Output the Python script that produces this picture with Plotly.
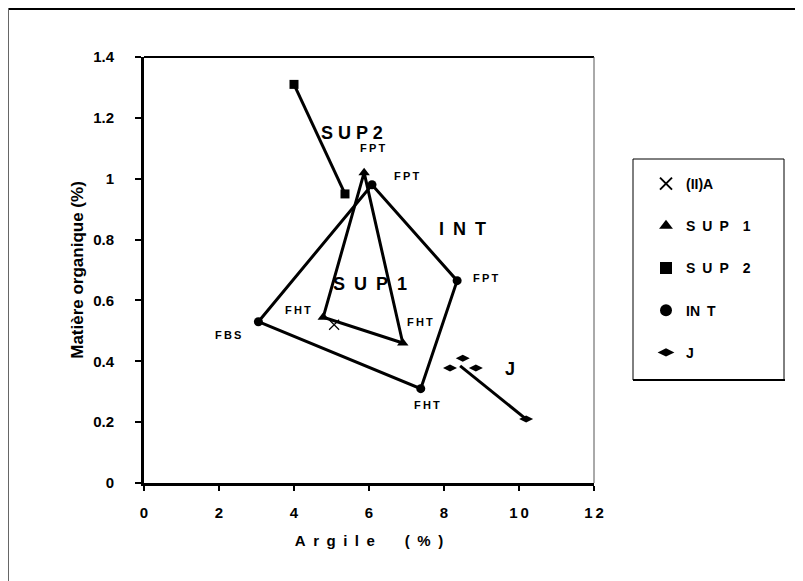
import plotly.graph_objects as go

# ---- data ----
ii_a_x = [5.07]
ii_a_y = [0.52]

sup1_x = [5.87, 4.78, 6.9]
sup1_y = [1.02, 0.545, 0.46]

sup2_x = [4.0, 5.36]
sup2_y = [1.31, 0.95]

int_x = [3.05, 6.08, 8.35, 7.38]
int_y = [0.53, 0.98, 0.665, 0.31]

j_x = [8.16, 8.5, 8.85, 10.19]
j_y = [0.378, 0.41, 0.378, 0.21]
j_line_x = [8.43, 10.19]
j_line_y = [0.385, 0.21]

x_ticks = [0, 2, 4, 6, 8, 10, 12]
x_ticktext = ["0", "2", "4", "6", "8", "1\u20090", "1\u20092"]
y_ticks = [0, 0.2, 0.4, 0.6, 0.8, 1.0, 1.2, 1.4]
y_ticktext = ["0", "0.2", "0.4", "0.6", "0.8", "1", "1.2", "1.4"]

# point labels
lab_text = ["F\u2009P\u2009T", "F\u2009P\u2009T", "F\u2009P\u2009T", "F\u2009H\u2009T",
            "F\u2009H\u2009T", "F\u2009B\u2009S", "F\u2009H\u2009T"]
lab_x = [6.08, 7.0, 9.1, 4.1, 7.37, 2.25, 7.55]
lab_y = [1.10, 1.01, 0.675, 0.57, 0.53, 0.487, 0.255]

big_text = ["S U P 2", "I\u2002N\u2002T", "S\u2002U\u2002P\u20021", "J"]
big_x = [5.55, 8.5, 6.03, 9.75]
big_y = [1.15, 0.835, 0.655, 0.375]

FONT = "Liberation Sans, Arial, sans-serif"
BLACK = "#000000"

fig = go.Figure()

def closed(v):
    return list(v) + [v[0]]

# lines
for lx, ly in [(closed(sup1_x), closed(sup1_y)), (sup2_x, sup2_y),
               (closed(int_x), closed(int_y)), (j_line_x, j_line_y)]:
    fig.add_trace(go.Scatter(x=lx, y=ly, mode="lines",
                             line=dict(color=BLACK, width=3), showlegend=False, hoverinfo="skip"))

# markers (legend entries)
fig.add_trace(go.Scatter(x=ii_a_x, y=ii_a_y, mode="markers", name="<b>(II)A</b>",
                         marker=dict(symbol="x-thin-open", size=10, color=BLACK,
                                     line=dict(color=BLACK, width=1.2))))
fig.add_trace(go.Scatter(x=sup1_x, y=sup1_y, mode="markers", name="<b>S\u2002U\u2002P\u20031</b>",
                         marker=dict(symbol="triangle-up", size=10, color=BLACK)))
fig.add_trace(go.Scatter(x=sup2_x, y=sup2_y, mode="markers", name="<b>S\u2002U\u2002P\u20032</b>",
                         marker=dict(symbol="square", size=9, color=BLACK)))
fig.add_trace(go.Scatter(x=int_x, y=int_y, mode="markers", name="<b>IN\u2002T</b>",
                         marker=dict(symbol="circle", size=9, color=BLACK)))
fig.add_trace(go.Scatter(x=j_x, y=j_y, mode="markers", name="<b>J</b>",
                         marker=dict(symbol="diamond-wide", size=10, color=BLACK)))

annotations = []
for t, x, y in zip(lab_text, lab_x, lab_y):
    annotations.append(dict(x=x, y=y, xref="x", yref="y", text="<b>%s</b>" % t, showarrow=False,
                            font=dict(family=FONT, size=11, color=BLACK)))
for t, x, y in zip(big_text, big_x, big_y):
    annotations.append(dict(x=x, y=y, xref="x", yref="y", text="<b>%s</b>" % t, showarrow=False,
                            font=dict(family=FONT, size=18, color=BLACK)))

# paper coordinate helpers, in page pixels (plot area at page 144..594 x 57..483)
def px(p):
    return (p - 144) / 450.0

def py(p):
    return (483 - p) / 426.0

shapes = [
    # plot area top and right border
    dict(type="line", xref="paper", yref="paper", x0=0, x1=1, y0=1, y1=1,
         line=dict(color=BLACK, width=2)),
    dict(type="line", xref="paper", yref="paper", x0=1, x1=1, y0=0, y1=1,
         line=dict(color="#555555", width=1)),
    # outer chart border (top, left)
    dict(type="line", xref="paper", yref="paper", x0=px(8), x1=px(805), y0=py(9), y1=py(9),
         line=dict(color=BLACK, width=2)),
    dict(type="line", xref="paper", yref="paper", x0=px(8.5), x1=px(8.5), y0=py(8), y1=py(585),
         line=dict(color="#666666", width=1)),
    # legend box
    dict(type="rect", xref="paper", yref="paper", x0=px(633), x1=px(784), y0=py(380), y1=py(159),
         line=dict(color=BLACK, width=1), fillcolor="rgba(0,0,0,0)"),
    dict(type="line", xref="paper", yref="paper", x0=px(633), x1=px(785), y0=py(380), y1=py(380),
         line=dict(color=BLACK, width=2)),
]

fig.update_layout(
    width=795, height=573,
    margin=dict(l=136, r=209, t=49, b=98),
    paper_bgcolor="white", plot_bgcolor="white",
    font=dict(family=FONT, size=14, color=BLACK),
    annotations=annotations,
    shapes=shapes,
    legend=dict(x=px(646), y=py(168), xanchor="left", yanchor="top",
                bgcolor="rgba(0,0,0,0)", borderwidth=0,
                font=dict(family=FONT, size=14, color=BLACK),
                tracegroupgap=21, itemsizing="constant"),
    showlegend=True,
)

fig.update_xaxes(range=[0, 12], tickvals=x_ticks, ticktext=["<b>%s</b>" % t for t in x_ticktext],
                 showgrid=False, zeroline=False, showline=True, linecolor=BLACK, linewidth=3,
                 ticks="outside", ticklen=5, tickwidth=1.5, tickcolor=BLACK,
                 ticklabelstandoff=9,
                 tickfont=dict(family=FONT, size=15, color=BLACK),
                 title=dict(text="<b>A\u2002r\u2002g\u2002i\u2002l\u2002e\u2003\u2003(\u2002%\u2002)</b>",
                            standoff=16,
                            font=dict(family=FONT, size=15, color=BLACK)))
fig.update_yaxes(range=[0, 1.4], tickvals=y_ticks, ticktext=["<b>%s</b>" % t for t in y_ticktext],
                 showgrid=False, zeroline=False, showline=True, linecolor=BLACK, linewidth=3,
                 ticks="outside", ticklen=6, tickwidth=1.5, tickcolor=BLACK,
                 ticklabelstandoff=18,
                 tickfont=dict(family=FONT, size=15, color=BLACK),
                 title=dict(text="<b>Matière organique (%)</b>", standoff=6,
                            font=dict(family=FONT, size=17, color=BLACK)))

# put each legend item in its own group for spacing
for i, tr in enumerate(fig.data):
    tr.legendgroup = "g%d" % i

fig.write_html("out.html")
